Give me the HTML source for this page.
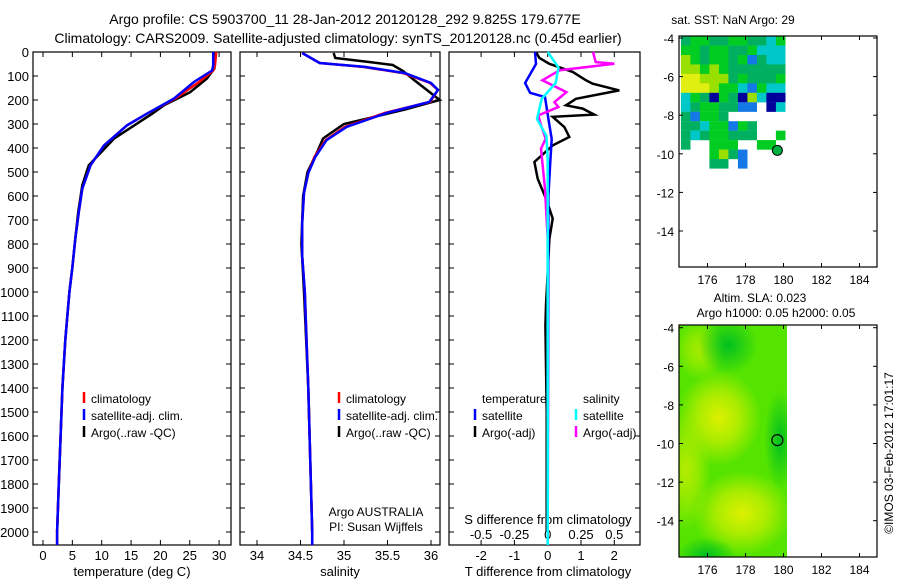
<!DOCTYPE html>
<html><head><meta charset="utf-8"><style>
html,body{margin:0;padding:0;background:#fff}
svg{display:block;font-family:"Liberation Sans",sans-serif}
text{font-size:13px;fill:#000}
</style></head><body>
<svg id="fig" width="900" height="580" viewBox="0 0 900 580">
<text x="345" y="24" text-anchor="middle" style="font-size:14px">Argo profile: CS 5903700_11 28-Jan-2012 20120128_292 9.825S 179.677E</text>
<text x="338" y="43" text-anchor="middle" style="font-size:14px">Climatology: CARS2009. Satellite-adjusted climatology: synTS_20120128.nc (0.45d earlier)</text>
<text x="733" y="24" style="font-size:12px" text-anchor="middle">sat. SST: NaN Argo: 29</text>
<text x="760" y="302" style="font-size:12px" text-anchor="middle">Altim. SLA: 0.023</text>
<text x="776" y="317" style="font-size:12px" text-anchor="middle">Argo h1000: 0.05 h2000: 0.05</text>
<text transform="translate(893,453) rotate(-90)" text-anchor="middle" style="font-size:12px">©IMOS 03-Feb-2012 17:01:17</text>
<g id="g"></g>
</svg>
<script>
// ---- data ----
const tempDepth   = [0,56,77,125,194,257,306,389,472,569,667,778,900,1000,1200,1400,1600,1800,2000,2054];
const tempClim    = [29.5,29.3,29.0,26.6,22.5,17.7,14.3,10.4,8.1,6.7,6.1,5.5,5.0,4.5,3.8,3.3,3.0,2.7,2.4,2.4];
const tempSat     = [29.0,29.0,28.8,25.7,22.3,17.7,14.3,10.4,8.1,6.7,6.1,5.5,5.0,4.5,3.8,3.3,3.0,2.7,2.4,2.4];
const argoTDepth  = [0,69,111,167,188,222,257,361,472,555,667,778,900,1000,1200,1400,1600,1800,2000];
const argoTemp    = [29.3,29.2,27.9,25.1,23.4,20.6,18.6,12.1,7.8,6.7,6.0,5.5,5.0,4.5,3.8,3.3,3.0,2.7,2.4];
const salDepth    = [4,46,62,88,129,158,208,254,312,367,437,504,587,712,850,1000,1400,1800,2000,2054];
const salClim     = [34.52,34.72,35.22,35.68,35.99,36.08,35.99,35.47,35.01,34.79,34.66,34.59,34.54,34.52,34.52,34.55,34.59,34.62,34.635,34.635];
const salSat      = [34.52,34.72,35.24,35.70,36.00,36.08,35.98,35.49,35.03,34.80,34.67,34.59,34.54,34.52,34.52,34.55,34.59,34.62,34.635,34.635];
const argoSDepth  = [4,25,42,54,80,115,200,240,300,360,410,500,600,800,1000,1400,2000];
const argoSal     = [34.88,34.90,35.30,35.56,35.68,35.80,36.10,35.70,35.00,34.76,34.70,34.58,34.53,34.51,34.54,34.59,34.635];
const dSatTDepth  = [0,50,129,170,188,279,362,450,600,2054];
const dSatT       = [-0.38,-0.35,-0.68,-0.53,-0.08,0.02,0.12,0.08,0.02,0.0];
const dSatSDepth  = [0,64,129,195,279,350,450,2054];
const dSatS       = [0.0,0.08,0.06,-0.045,-0.08,-0.01,0.0,0.0];
const dArgoSDepth = [0,42,49,76,118,167,209,229,264,306,361,403,570,778,2000];
const dArgoS      = [0.34,0.36,0.50,0.09,-0.04,0.14,0.05,0.08,-0.07,-0.05,-0.015,-0.05,-0.02,0.0,0.0];
const dArgoTDepth = [0,25,49,83,118,132,160,195,222,236,261,270,313,354,389,458,528,611,694,778,1056,1139,1500,2000];
const dArgoT      = [-0.35,-0.25,0.05,0.75,1.15,1.35,2.15,0.85,0.55,1.05,1.4,0.15,0.5,0.65,0.15,-0.4,-0.3,-0.05,0.15,0.05,-0.05,-0.07,-0.03,-0.03];
const depthTicks  = [0,100,200,300,400,500,600,700,800,900,1000,1100,1200,1300,1400,1500,1600,1700,1800,1900,2000];
const tempTicks   = [0,5,10,15,20,25,30];
const salTicks    = [34,34.5,35,35.5,36];
const tDiffTicks  = [-2,-1,0,1,2];
const sDiffTicks  = [-0.5,-0.25,0,0.25,0.5];
const lonTicks    = [176,178,180,182,184];
const latTicks    = [-4,-6,-8,-10,-12,-14];
const sstRows = [
 "TGGTTGGTTCG","GGTGGTTGCCC","LGTGGTGBTCC","LLGLGTTTTTT","YYLLLTGTTTG",
 "YYYLGGCBGCC","CGTNGTNLCNN","CTGGTTBB.NC","TBGGT......","TTCGGBGT...",
 "TCTGGTTT..G","T..GGG..GG.","...GLTB....","...TT.B...."];
const argoLon = 179.677, argoLat = -9.825;
// ---- helpers ----
const NS="http://www.w3.org/2000/svg", G=document.getElementById('g');
function el(t,a,txt){const e=document.createElementNS(NS,t);for(const k in a)e.setAttribute(k,a[k]);if(txt!==undefined)e.textContent=txt;G.appendChild(e);return e;}
const yD=d=>52+d*0.24;
const P1={x0:33,x1:231,sx:v=>43+v*5.87};
const P2={x0:240,x1:440,sx:v=>257+(v-34)*87};
const P3={x0:449,x1:640,sx:v=>547.7+v*33.3};
const sS=v=>547.7+v*133.3;
function line(xs,ds,fx,col,w,name){
  const pts=xs.map((v,i)=>fx(v).toFixed(1)+','+yD(ds[i]).toFixed(1)).join(' ');
  const e=el('polyline',{points:pts,fill:'none',stroke:col,'stroke-width':w});
  
  
}
function frame(P,name){
  const r=el('rect',{x:P.x0,y:52,width:P.x1-P.x0,height:493,fill:'none',stroke:'#000','stroke-width':1.2});
  
  
}
function depthAxis(P,labels){
  depthTicks.forEach(d=>{const y=yD(d);
    el('line',{x1:P.x0,x2:P.x0+5,y1:y,y2:y,stroke:'#000'});el('line',{x1:P.x1-5,x2:P.x1,y1:y,y2:y,stroke:'#000'});
    if(labels){const t=el('text',{x:P.x0-4,y:y+5,'text-anchor':'end'},String(d));
      
      }
  });
}
function xAxis(P,ticks,fx,fmt,ly){
  ticks.forEach(v=>{const x=fx(v);
    el('line',{x1:x,x2:x,y1:545,y2:540,stroke:'#000'});el('line',{x1:x,x2:x,y1:52,y2:57,stroke:'#000'});
    const t=el('text',{x:x,y:ly,'text-anchor':'middle'},fmt(v));
    
    });
}
function legItem(x,y,col,label,name){
  el('line',{x1:x,x2:x,y1:y-11,y2:y,stroke:col,'stroke-width':2.5});
  const t=el('text',{x:x+7,y:y,style:'font-size:12px'},label);
  
  
}
// ---- panel 1 temperature ----
frame(P1,'temperature-panel');depthAxis(P1,true);
xAxis(P1,tempTicks,P1.sx,String,560);
line(argoTemp,argoTDepth,P1.sx,'#000',2.5,'argo-temperature-line');
line(tempClim,tempDepth,P1.sx,'#f00',2.5,'clim-temperature-line');
line(tempSat,tempDepth,P1.sx,'#00f',2.5,'sat-temperature-line');
el('text',{x:132,y:576,'text-anchor':'middle'},'temperature (deg C)');
legItem(84,403,'#f00','climatology','legend-climatology');
legItem(84,420,'#00f','satellite-adj. clim.','legend-satellite-adj');
legItem(84,437,'#000','Argo(..raw -QC)','legend-argo');
// ---- panel 2 salinity ----
frame(P2,'salinity-panel');depthAxis(P2,false);
xAxis(P2,salTicks,P2.sx,String,560);
line(argoSal,argoSDepth,P2.sx,'#000',2.5,'argo-salinity-line');
line(salClim,salDepth,P2.sx,'#f00',2.5,'clim-salinity-line');
line(salSat,salDepth,P2.sx,'#00f',2.5,'sat-salinity-line');
el('text',{x:340,y:576,'text-anchor':'middle'},'salinity');
legItem(339,403,'#f00','climatology','legend-climatology-2');
legItem(339,420,'#00f','satellite-adj. clim.','legend-satellite-adj-2');
legItem(339,437,'#000','Argo(..raw -QC)','legend-argo-2');
el('text',{x:376,y:516,'text-anchor':'middle',style:'font-size:12px'},'Argo AUSTRALIA');
el('text',{x:376,y:531,'text-anchor':'middle',style:'font-size:12px'},'PI: Susan Wijffels');
// ---- panel 3 differences ----
frame(P3,'difference-panel');depthAxis(P3,false);
xAxis(P3,tDiffTicks,P3.sx,String,560);
sDiffTicks.forEach(v=>{const t=el('text',{x:sS(v),y:539,'text-anchor':'middle'},String(v));
  
  });
el('text',{x:548,y:524,'text-anchor':'middle'},'S difference from climatology');
el('text',{x:548,y:576,'text-anchor':'middle'},'T difference from climatology');
line(dArgoT,dArgoTDepth,P3.sx,'#000',2.5,'argo-t-diff-line');
line(dSatT,dSatTDepth,P3.sx,'#00f',2.5,'sat-t-diff-line');
line(dArgoS,dArgoSDepth,sS,'#f0f',2.5,'argo-s-diff-line');
line(dSatS,dSatSDepth,sS,'#0ff',2.5,'sat-s-diff-line');
el('text',{x:482,y:403,style:'font-size:12px'},'temperature');
el('text',{x:583,y:403,style:'font-size:12px'},'salinity');
legItem(475,420,'#00f','satellite','legend-t-satellite');
legItem(475,437,'#000','Argo(-adj)','legend-t-argo');
legItem(576,420,'#0ff','satellite','legend-s-satellite');
legItem(576,437,'#f0f','Argo(-adj)','legend-s-argo');
// ---- maps ----
const mx=lon=>679+(lon-174.5)*19;
function mapAxes(y0,y1,lat0y,name){
  const my=lat=>lat0y+(-4-lat)*19.3;
  const r=el('rect',{x:679,y:y0,width:198,height:y1-y0,fill:'none',stroke:'#000','stroke-width':1.2});
  
  
  lonTicks.forEach(l=>{const x=mx(l);el('line',{x1:x,x2:x,y1:y1,y2:y1-4,stroke:'#000'});el('line',{x1:x,x2:x,y1:y0,y2:y0+4,stroke:'#000'});
    const t=el('text',{x:x,y:y1+17,'text-anchor':'middle',style:'font-size:12px'},String(l));
    
    });
  latTicks.forEach(l=>{const y=my(l);el('line',{x1:679,x2:683,y1:y,y2:y,stroke:'#000'});el('line',{x1:873,x2:877,y1:y,y2:y,stroke:'#000'});
    const t=el('text',{x:674,y:y+5,'text-anchor':'end',style:'font-size:12px'},String(l));
    
    });
  return my;
}
// SST map
const cols={Y:'#e0ee10',L:'#99e000',G:'#00cc22',T:'#00b060',C:'#00c8c8',B:'#1478e6',N:'#00009a'};
let myS=lat=>38+(-4-lat)*19.3;
sstRows.forEach((row,ri)=>{[...row].forEach((c,ci)=>{ if(c==='.')return;
  const lat=-3.9-ri*0.49, lon=174.6+ci*0.5;
  const r=el('rect',{x:mx(lon),y:myS(lat),width:9.6,height:9.6,fill:cols[c]});
  
  
});});
const c1=el('circle',{cx:mx(argoLon),cy:myS(argoLat),r:5,fill:'#00b040',stroke:'#000'});


mapAxes(36,267,38,'sst-map');
// SLA map
const defs=el('defs',{});
defs.innerHTML='<radialGradient id="b1"><stop offset="0" stop-color="#ddf000"/><stop offset="0.5" stop-color="#aaec00"/><stop offset="1" stop-color="#aaec00" stop-opacity="0"/></radialGradient><radialGradient id="b2"><stop offset="0" stop-color="#00c020"/><stop offset="1" stop-color="#00c020" stop-opacity="0"/></radialGradient><clipPath id="slaclip"><rect x="679" y="325" width="108" height="232"/></clipPath>';
const sg=el('g',{'clip-path':'url(#slaclip)'});


sg.innerHTML='<rect x="679" y="325" width="108" height="232" fill="#55e400"/>'+
'<ellipse cx="719" cy="418" rx="42" ry="48" fill="url(#b1)"/>'+
'<ellipse cx="742" cy="513" rx="50" ry="42" fill="url(#b1)"/>'+
'<ellipse cx="686" cy="470" rx="25" ry="60" fill="url(#b1)" opacity="0.7"/>'+
'<ellipse cx="700" cy="350" rx="25" ry="30" fill="url(#b1)" opacity="0.6"/>'+
'<ellipse cx="728" cy="345" rx="30" ry="30" fill="url(#b2)"/>'+
'<ellipse cx="780" cy="440" rx="16" ry="50" fill="url(#b2)"/>'+
'<ellipse cx="706" cy="555" rx="30" ry="18" fill="url(#b2)"/>';
const mySL=lat=>327.7+(-4-lat)*19.3;
const c2=el('circle',{cx:mx(argoLon),cy:mySL(argoLat),r:5.5,fill:'none',stroke:'#000','stroke-width':1.2});


mapAxes(325,557,327.7,'sla-map');
</script>
</body></html>
